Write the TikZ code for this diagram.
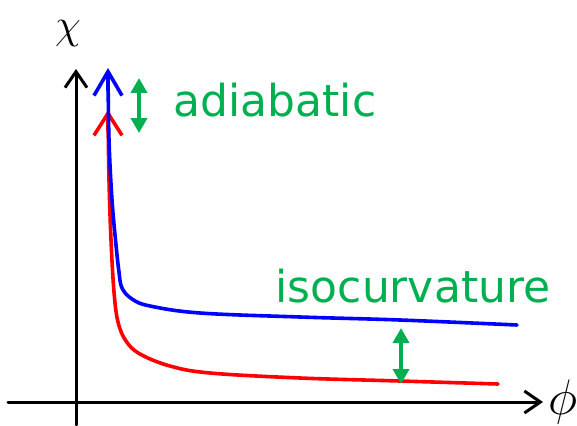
\documentclass[tikz,border=0pt]{standalone}
\usepackage{fix-cm}
\usepackage{fontspec}
\usetikzlibrary{arrows.meta}
\newfontfamily\labelfont{DejaVu Sans}
\definecolor{mygreen}{RGB}{0,176,80}
\begin{document}
\begin{tikzpicture}[x=1pt, y=-1pt, line join=round, line cap=round]
			\tikzset{axis/.style={line width=3pt, -{Straight Barb[length=16pt,width=22pt,line width=3pt]}},
				curve/.style={line width=3.6pt},
				gap/.style={mygreen, line width=4pt, {Triangle[length=15pt,width=16pt]}-{Triangle[length=15pt,width=16pt]}},
				lbl/.style={mygreen, anchor=base, font=\labelfont\fontsize{44}{50}\selectfont}}
			\useasboundingbox (0,0) rectangle (577,425);
			% axes
			\draw[axis] (8,402)--(543,402);
			\draw[axis] (76,425)--(76,69);
			\node[anchor=base, font=\fontsize{50}{60}\selectfont] (phi) at (563,414) {$\phi$};
			\node[anchor=base, font=\fontsize{42}{50}\selectfont] (chi) at (68,39) {$\chi$};
			% trajectories
			\draw[curve, red] plot[smooth, tension=.6] coordinates {(498,384) (400,381) (300,378) (210,373) (170,366) (140,354) (126,341) (118,322) (114,292) (111,240) (109,180) (108,114)};
			\draw[red, line width=3.6pt, -{Straight Barb[length=22pt,width=28pt,line width=3.6pt]}] (108,130)--(108,110);
			\draw[curve, blue] plot[smooth, tension=.6] coordinates {(517,325) (400,320) (300,317) (200,313) (150,306) (132,299) (122,288) (119,272) (116,245) (112,200) (109,140) (108,72)};
			\draw[blue, line width=3.6pt, -{Straight Barb[length=24pt,width=28pt,line width=3.6pt]}] (108,90)--(108,68);
			% labels
			\coordinate (a1) at (139,78); \coordinate (a2) at (139,133);
			\draw[gap] (a1)--(a2);
			\node[lbl] (adia) at (275,117) {adiabatic};
			\coordinate (i1) at (401,328); \coordinate (i2) at (401,384);
			\draw[gap] (i1)--(i2);
			\node[lbl] (iso) at (413,302) {isocurvature};
		\end{tikzpicture}
\end{document}
